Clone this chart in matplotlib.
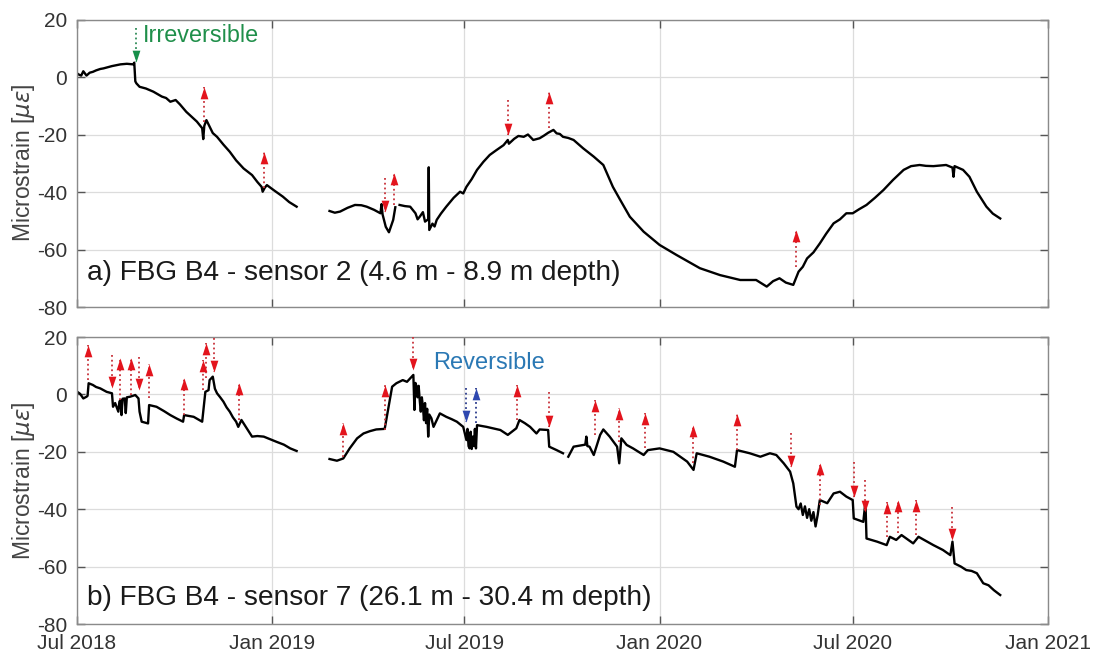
import numpy as np
import pandas as pd
import matplotlib
matplotlib.use('Agg')
import matplotlib.pyplot as plt
import matplotlib.dates as mdates

plt.rcParams['font.family'] = ['Liberation Sans', 'DejaVu Sans']
plt.rcParams['axes.unicode_minus'] = False

START = '2018-07-01'

# sensor 2: days since 1 Jul 2018 and microstrain (nan = no data)
s2_days = [0, 2, 4, 6, 9, 12, 15, 18, 22, 25, 29, 33, 37, 41, 47, 53, 54, 55, 56, 59, 65, 72, 80, 84,
           88, 93, 97, 103, 108, 113, 118, 119, 120, 122, 124, 128, 132, 138, 144, 150, 157, 165,
           170, 174, 175, 177, 179, 186, 194, 200, 207, 222, 238, 243, 248, 255, 262, 268, 273, 280,
           286, 287, 288, 291, 294, 298, 300, 302, 304, 309, 314, 319, 321, 323, 326, 328, 331, 331.5,
           332, 335, 337, 339, 343, 348, 352, 355, 361, 364, 367, 372, 377, 383, 389, 395, 402, 406,
           407, 412, 416, 421, 425, 430, 436, 440, 444, 449, 452, 455, 458, 463, 468, 477, 487, 496,
           505, 512, 521, 534, 549, 565, 587, 606, 625, 640, 650, 656, 662, 668, 675, 680, 684, 688,
           694, 700, 706, 713, 719, 725, 731, 737, 744, 752, 760, 769, 779, 786, 794, 800, 807, 813,
           819, 825, 826, 827, 835, 841, 848, 857, 863, 870]
s2_vals = [1.3, 0.8, 0.5, 2.0, 0.5, 1.5, 1.8, 2.3, 2.8, 3.0, 3.4, 3.8, 4.1, 4.4, 4.6, 4.4, 5.0, -1.5,
           -2.2, -3.4, -4.0, -5.1, -6.8, -7.3, -8.6, -8.0, -9.5, -12.1, -13.8, -15.5, -17.8, -21.6,
           -17.0, -15.0, -16.5, -19.5, -20.8, -23.5, -26.0, -29.0, -31.8, -34.1, -36.5, -38.2,
           -39.9, -38.5, -37.6, -39.5, -41.6, -43.5, -45.1, np.nan, -46.6, -47.2, -46.8, -45.5,
           -44.5, -44.6, -45.1, -46.2, -47.4, -44.2, -47.8, -52.1, -54.0, -49.7, -45.3, np.nan,
           -44.5, -44.9, -45.1, -47.4, -49.5, -48.6, -47.0, -50.3, -49.5, -31.4, -53.2, -51.0,
           -52.0, -49.7, -47.5, -45.1, -43.3, -42.0, -39.9, -40.5, -38.2, -35.5, -32.3, -29.5,
           -27.1, -25.5, -23.7, -21.9, -23.2, -21.5, -20.5, -20.8, -20.0, -21.9, -21.3, -20.4,
           -19.4, -18.4, -19.6, -19.8, -20.8, -21.2, -21.9, -24.8, -27.7, -30.6, -38.2, -42.8,
           -48.6, -53.8, -58.4, -61.9, -66.5, -68.9, -70.6, -70.6, -72.9, -71.0, -70.0, -71.5,
           -72.3, -67.7, -66.0, -63.1, -61.0, -57.9, -54.5, -50.9, -49.5, -47.4, -47.4, -46.0,
           -44.5, -42.0, -39.3, -35.8, -32.3, -31.0, -30.6, -30.9, -31.0, -30.8, -30.6, -31.5,
           -34.7, -31.0, -32.3, -34.7, -39.9, -45.1, -47.5, -49.2]

# sensor 7
s7_days = [0, 3, 6, 9, 10, 11, 15, 18, 22, 28, 33, 34, 36, 39, 40, 41, 42, 43, 45, 46, 47, 50, 55,
           58, 59, 61, 67, 68, 75, 82, 88, 94, 100, 101, 110, 118, 121, 124, 125, 128, 130, 132,
           135, 138, 141, 144, 147, 150, 152, 155, 160, 165, 170, 176, 182, 188, 195, 201, 207, 222,
           238, 245, 251, 257, 264, 270, 276, 282, 290, 292, 297, 301, 307, 311, 317, 318, 319,
           320, 321, 322, 323, 324, 325, 326, 327, 328, 329, 330, 331, 332, 334, 336, 342, 348,
           353, 358, 364, 367, 368, 369, 370, 371, 372, 373, 374, 375, 376, 377,
           386, 392, 399, 406, 414, 417, 422, 427, 433, 436, 444, 445, 452, 458, 460, 463, 468,
           477, 479, 480, 481, 483, 487, 493, 496, 502, 509, 511, 513, 518, 524, 534, 538, 549,
           562, 575, 581, 584, 596, 609, 620, 622, 634, 644, 653, 659, 666, 672, 675, 678, 680,
           682, 684, 686, 688, 690, 692, 694, 696, 698, 700, 707, 713, 719, 725, 731, 732, 741,
           743, 744, 754, 763, 766, 772, 777, 788, 793, 807, 816, 823, 825, 827, 833, 838, 843,
           848, 854, 859, 864, 870]
s7_vals = [1.0, 0.2, -1.4, -0.8, -0.5, 3.9, 3.3, 2.6, 2.1, 0.9, 0.4, -4.3, -3.0, -6.0, -2.5, -2.0,
           -7.2, -1.5, -1.4, -6.5, -1.0, -0.8, -0.2, -1.4, -6.0, -9.5, -10.1, -3.7, -4.3, -5.8,
           -7.2, -8.4, -9.5, -7.2, -7.8, -9.5, 0.9, 1.5, 5.0, 6.2, 2.0, 0.4, -1.0, -2.5, -4.5,
           -6.0, -8.0, -9.5, -11.3, -8.9, -11.8, -14.7, -14.5, -14.7, -15.6, -16.5, -17.5, -18.8,
           -19.7, np.nan, -22.5, -23.1, -22.3, -18.8, -15.3, -13.6, -12.8, -12.2, -12.0, -7.8, 2.7,
           3.9, 5.0, 4.4, 6.8, -5.4, 4.0, 2.7, -1.0, 3.0, -2.0, -6.0, -1.0, -4.3, -9.0, -3.0,
           -10.0, -5.0, -14.7, -7.0, -8.3, -11.3, -6.6, -7.8, -8.6, -9.5, -11.3, -15.9, -12.0,
           -18.0, -18.8, -13.0, -19.0, -14.7, -18.0, -12.0, -18.8, -10.7,
           -11.3, -11.8, -12.4, -14.1, -11.8, -8.9, -10.0, -11.3, -13.6, -12.2, -12.4, -18.2,
           -19.4, -20.5, np.nan, -21.7, -18.2,
           -17.6, -17.5, -14.7, -18.0, -18.2, -21.1, -14.1, -12.2, -14.7, -18.2, -24.0, -15.3,
           -17.6, -18.8, -21.1, -19.4, -18.8, -20.0, -23.4, -26.3, -20.5, -21.7, -23.4, -25.2,
           -19.4, -20.5, -21.7, -20.5, -21.1, -24.0, -26.9, -31.0, -39.1, -40.0, -38.0, -42.0,
           -39.0, -43.0, -40.0, -44.0, -41.0, -46.0, -42.0, -36.8, -37.9, -34.5, -33.9, -35.6,
           -36.8, -43.2, -44.4, -37.4, -50.2, -51.3, -52.5, -49.6, -50.7, -49.0, -51.9, -49.6,
           -52.5, -54.2, -56.0, -51.3, -58.9, -60.0, -61.2, -61.5, -62.3, -65.8, -66.5, -68.2,
           -69.9]

# event arrows: (day, tail value, tip value)
s2_green_arrows = [(55.6, 17.0, 5.3)]
s2_red_arrows = [(119.7, -15.5, -3.4), (176, -38.7, -26.0), (290, -35.2, -46.8),
                 (299, -44.5, -33.5), (406.5, -8.0, -20.2), (445, -17.8, -5.1),
                 (678, -66.0, -53.2)]
s7_red_arrows = [(10.7, 5.0, 17.2), (32.7, 13.7, 2.1), (40.5, -2.0, 12.6), (50.6, -0.1, 12.6),
                 (58.7, 13.1, 1.5), (67.8, -1.4, 10.5), (100.8, -7.2, 5.6), (119, 1.5, 12.0),
                 (122, 5.6, 17.8), (129.4, 19.5, 7.9), (153, -8.9, 3.9), (251, -21.7, -10.1),
                 (290, -12.4, 3.3), (317, 20.0, 8.5), (415, -8.9, 3.3), (445, 0.9, -11.3),
                 (488, -14.1, -2.0), (511, -16.5, -4.8), (535, -18.8, -6.6), (580.8, -24.0, -10.7),
                 (621.6, -19.4, -6.9), (672.8, -13.6, -25.2), (700, -38.5, -24.0),
                 (732, -23.4, -35.6), (743, -29.8, -40.9), (763.6, -49.6, -37.4),
                 (773.6, -48.4, -36.8), (791, -49.0, -36.8), (825, -39.1, -50.7)]
s7_blue_arrows = [(366.6, 2.1, -9.5), (376, -10.1, 2.1)]

tick_dates = ['2018-07-01', '2019-01-01', '2019-07-01', '2020-01-01', '2020-07-01', '2021-01-01']
y_ticks = [-80, -60, -40, -20, 0, 20]

UP_HEAD = [(-0.33, -1), (0.33, -1), (0, 0), (-0.33, -1)]
DOWN_HEAD = [(-0.33, 1), (0.33, 1), (0, 0), (-0.33, 1)]


def to_dates(days):
    return pd.Timestamp(START) + pd.to_timedelta(np.asarray(days, dtype=float), unit='D')


def draw_arrows(ax, arrows, shaft_color, head_color):
    for day, tail, tip in arrows:
        x = to_dates([day])[0]
        ax.plot([x, x], [tail, tip], ls=':', color=shaft_color, lw=1.3, zorder=3)
        head = UP_HEAD if tip > tail else DOWN_HEAD
        ax.plot([x], [tip], marker=head, ms=17, color=head_color, mec='none', zorder=4)


def style_axes(ax):
    ax.set_xlim(pd.Timestamp(tick_dates[0]), pd.Timestamp(tick_dates[-1]))
    ax.set_ylim(-80, 20)
    ax.set_xticks([pd.Timestamp(d) for d in tick_dates])
    ax.xaxis.set_major_formatter(mdates.DateFormatter('%b %Y'))
    ax.set_yticks(y_ticks)
    ax.grid(True, color='#dcdcdc', lw=0.9)
    ax.set_axisbelow(True)
    for s in ax.spines.values():
        s.set_color('#8a8a8a')
        s.set_linewidth(1.0)
    ax.tick_params(direction='in', top=True, right=True, length=6, width=1.0,
                   color='#555555', labelsize=15, labelcolor='#333333')
    ax.tick_params(axis='y', pad=7)
    ax.tick_params(axis='x', pad=7)
    ax.set_ylabel(r'Microstrain [$\mu\epsilon$]', fontsize=16.5, color='#444444')
    ax.yaxis.set_label_coords(-0.041, 0.5)


fig = plt.figure(figsize=(10.93, 6.57), dpi=100)
ax1 = fig.add_axes([0.0704, 0.5327, 0.8884, 0.4376])
ax2 = fig.add_axes([0.0704, 0.0502, 0.8884, 0.4368])

# panel a
ax1.plot(to_dates(s2_days), s2_vals, color='black', lw=1.7, zorder=2)
draw_arrows(ax1, s2_green_arrows, '#2e8b57', '#17904a')
draw_arrows(ax1, s2_red_arrows, '#c8323a', '#e3141d')
style_axes(ax1)
ax1.tick_params(labelbottom=False)
ax1.text(0.068, 0.946, 'Irreversible', transform=ax1.transAxes, fontsize=16.8,
         color='#1f8f4a', va='center', ha='left')
ax1.text(0.010, 0.12, 'a) FBG B4 - sensor 2 (4.6 m - 8.9 m depth)', transform=ax1.transAxes,
         fontsize=20.2, color='#1a1a1a', va='center', ha='left')

# panel b
ax2.plot(to_dates(s7_days), s7_vals, color='black', lw=1.7, zorder=2)
draw_arrows(ax2, s7_red_arrows, '#c8323a', '#e3141d')
draw_arrows(ax2, s7_blue_arrows, '#2a3a8c', '#2e48b0')
style_axes(ax2)
ax2.text(0.367, 0.909, 'Reversible', transform=ax2.transAxes, fontsize=17,
         color='#2a78b4', va='center', ha='left')
ax2.text(0.010, 0.09, 'b) FBG B4 - sensor 7 (26.1 m - 30.4 m depth)', transform=ax2.transAxes,
         fontsize=20.2, color='#1a1a1a', va='center', ha='left')

fig.savefig('out.png', dpi=100)
